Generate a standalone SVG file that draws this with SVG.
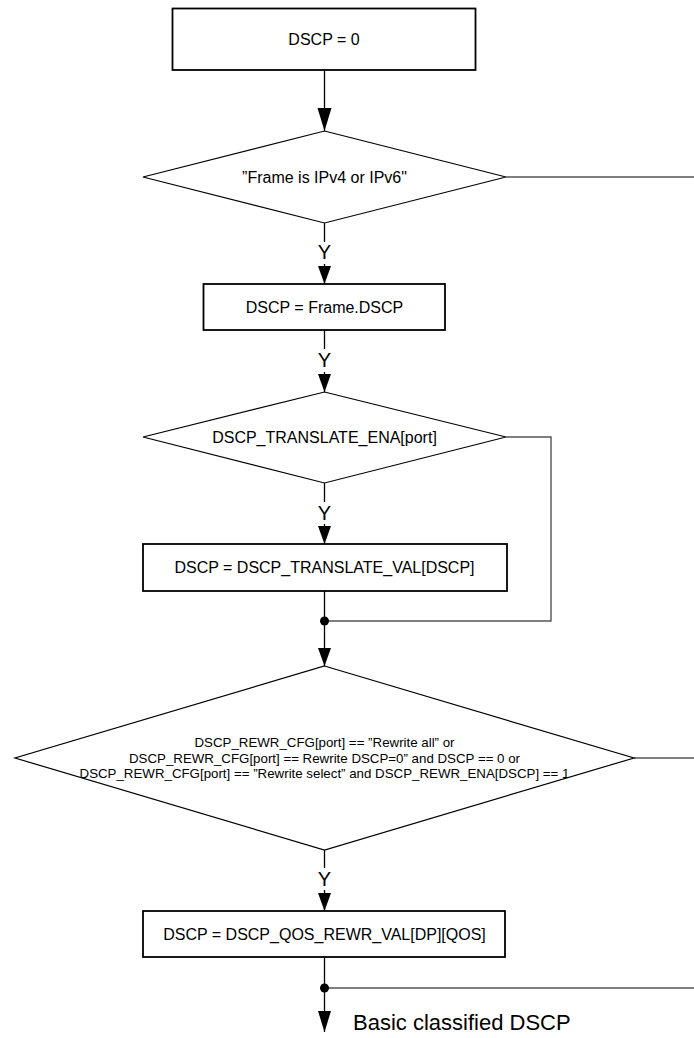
<svg xmlns="http://www.w3.org/2000/svg" width="694" height="1038" viewBox="0 0 694 1038">
<defs>
<style>
.box{fill:#fff;stroke:#000;stroke-width:1.8}
.dia{fill:#fff;stroke:#000;stroke-width:1.2}
.c{fill:none;stroke:#000;stroke-width:1.3}
.g{fill:none;stroke:#555;stroke-width:1.4}
.t{font-family:"Liberation Sans",Arial,sans-serif;font-size:16px;fill:#000;text-anchor:middle}
.s{font-family:"Liberation Sans",Arial,sans-serif;font-size:13.3px;fill:#000;text-anchor:middle}
.y{font-family:"Liberation Sans",Arial,sans-serif;font-size:20px;fill:#000;text-anchor:middle}
.dot{fill:#000}
</style>
<marker id="a" markerUnits="userSpaceOnUse" markerWidth="14" markerHeight="19" refX="7" refY="18" viewBox="0 0 14 19">
<path d="M0.5,0 L13.5,0 L7,18 Z" fill="#000"/>
</marker>
<marker id="b" markerUnits="userSpaceOnUse" markerWidth="14" markerHeight="22" refX="7" refY="21" viewBox="0 0 14 22">
<path d="M0.5,0 L13.5,0 L7,21 Z" fill="#000"/>
</marker>
<marker id="A" markerUnits="userSpaceOnUse" markerWidth="16" markerHeight="24" refX="8" refY="23" viewBox="0 0 16 24">
<path d="M1,0 L15,0 L8,23 Z" fill="#000"/>
</marker>
</defs>
<g id="connectors">
<path class="c" d="M324.5,70 V131" marker-end="url(#A)"/>
<path class="c" d="M324.5,223 V242"/>
<path class="c" d="M324.5,264 V284" marker-end="url(#a)"/>
<path class="c" d="M324.5,330 V349"/>
<path class="c" d="M324.5,372 V392" marker-end="url(#a)"/>
<path class="c" d="M324.5,483 V502"/>
<path class="c" d="M324.5,524 V544" marker-end="url(#a)"/>
<path class="c" d="M324.5,591 V666" marker-end="url(#a)"/>
<path class="c" d="M324.5,850 V868"/>
<path class="c" d="M324.5,890 V911" marker-end="url(#a)"/>
<path class="c" d="M324.5,957 V1032" marker-end="url(#b)"/>
<path class="g" d="M506,177 H694"/>
<path class="g" d="M506,437 H551 V621 H324.5"/>
<path class="g" d="M634,758 H694"/>
<path class="g" d="M324.5,988 H694"/>
<circle class="dot" cx="324.5" cy="621" r="4.5"/>
<circle class="dot" cx="324.5" cy="988" r="4.5"/>
<text class="y" x="324.5" y="259.2">Y</text>
<text class="y" x="324.5" y="367.2">Y</text>
<text class="y" x="324.5" y="520.2">Y</text>
<text class="y" x="324.5" y="886.2">Y</text>
<text x="353" y="1030" font-family="Liberation Sans, Arial, sans-serif" font-size="22" fill="#000">Basic classified DSCP</text>
</g>
<g id="n1">
<rect class="box" x="172.5" y="8.5" width="303" height="61.5"/>
<text class="t" x="324" y="45">DSCP = 0</text>
</g>
<g id="n2">
<polygon class="dia" points="324.5,131 506,177 324.5,223 143,177"/>
<text class="t" x="324.5" y="182.7">”Frame is IPv4 or IPv6"</text>
</g>
<g id="n3">
<rect class="box" x="203.5" y="284" width="241.5" height="46"/>
<text class="t" x="324.5" y="312.7">DSCP = Frame.DSCP</text>
</g>
<g id="n4">
<polygon class="dia" points="324.5,392 506,437 324.5,483 143,437"/>
<text class="t" x="324.5" y="442.7">DSCP_TRANSLATE_ENA[port]</text>
</g>
<g id="n5">
<rect class="box" x="143" y="544" width="364" height="47"/>
<text class="t" x="324.5" y="572.7">DSCP = DSCP_TRANSLATE_VAL[DSCP]</text>
</g>
<g id="n6">
<polygon class="dia" points="324.5,666 634,758 324.5,850 15,758"/>
<text class="s" x="324.5" y="746.8">DSCP_REWR_CFG[port] == ”Rewrite all” or</text>
<text class="s" x="324.5" y="762.8">DSCP_REWR_CFG[port] == Rewrite DSCP=0” and DSCP == 0 or</text>
<text class="s" x="324.5" y="778.3">DSCP_REWR_CFG[port] == ”Rewrite select” and DSCP_REWR_ENA[DSCP] == 1</text>
</g>
<g id="n7">
<rect class="box" x="143" y="911" width="362" height="46"/>
<text class="t" x="324.5" y="939.7">DSCP = DSCP_QOS_REWR_VAL[DP][QOS]</text>
</g>
</svg>
